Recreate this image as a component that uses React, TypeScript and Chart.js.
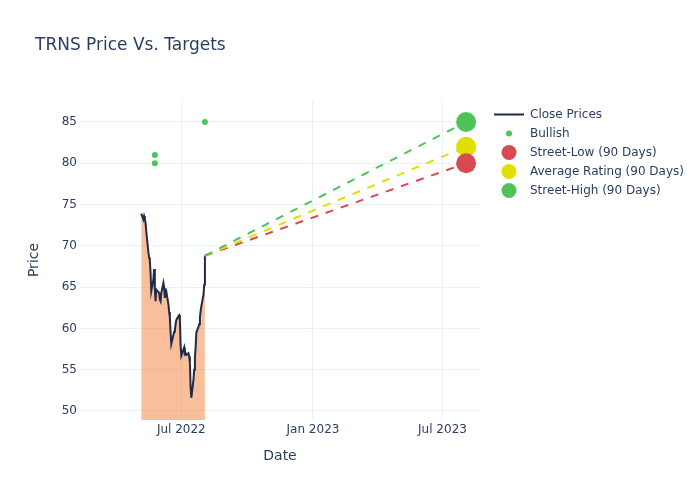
import React, { useEffect, useRef } from "react";
import { Chart, registerables } from "chart.js";

Chart.register(...registerables);

// ---------- data ----------
const closeDates = [
  "2022-05-06", "2022-05-09", "2022-05-10", "2022-05-11", "2022-05-12", "2022-05-13",
  "2022-05-16", "2022-05-17", "2022-05-18", "2022-05-19", "2022-05-20",
  "2022-05-23", "2022-05-24", "2022-05-25", "2022-05-26", "2022-05-27",
  "2022-05-31", "2022-06-01", "2022-06-02", "2022-06-03",
  "2022-06-06", "2022-06-07", "2022-06-08", "2022-06-09", "2022-06-10",
  "2022-06-13", "2022-06-14", "2022-06-15", "2022-06-16", "2022-06-17",
  "2022-06-21", "2022-06-22", "2022-06-23", "2022-06-24",
  "2022-06-27", "2022-06-28", "2022-06-29", "2022-06-30", "2022-07-01",
  "2022-07-05", "2022-07-06", "2022-07-07", "2022-07-08",
  "2022-07-11", "2022-07-12", "2022-07-13", "2022-07-14", "2022-07-15",
  "2022-07-18", "2022-07-19", "2022-07-20", "2022-07-21", "2022-07-22",
  "2022-07-25", "2022-07-26", "2022-07-27", "2022-07-28", "2022-07-29",
  "2022-08-01", "2022-08-02", "2022-08-03",
];
const closeValues = [
  73.9, 73.2, 73.6, 73.3, 72.8, 71.8,
  69.2, 68.6, 68.2, 66.8, 64.5,
  65.9, 67.2, 64.9, 63.3, 64.7,
  64.3, 63.5, 63.3, 64.3,
  65.5, 64.9, 63.7, 64.3, 64.5,
  62.9, 62.0, 61.3, 59.5, 58.1,
  59.6, 59.8, 60.5, 61.0,
  61.5, 61.6, 61.0, 58.0, 56.7,
  57.7, 56.9, 57.0, 56.8,
  57.0, 56.6, 55.8, 52.8, 51.6,
  53.8, 55.0, 56.5, 57.7, 59.5,
  60.2, 60.5, 61.3, 62.1, 62.7,
  64.1, 65.3, 68.8,
];
const bullishDates = ["2022-05-25", "2022-05-25", "2022-08-03"];
const bullishValues = [81, 80, 85];

const targetDate = "2023-08-03";
const targetLabels = ["Street-Low (90 Days)", "Average Rating (90 Days)", "Street-High (90 Days)"];
const targetValues = [80, 82, 85];
const targetColors = ["#d84a52", "#e0e000", "#4cc45a"];

const xTickDates = ["2022-07-01", "2023-01-01", "2023-07-01"];
const xTickLabels = ["Jul 2022", "Jan 2023", "Jul 2023"];
const yTicks = [50, 55, 60, 65, 70, 75, 80, 85];
const xRange = ["2022-02-09T10:00:00Z", "2023-08-22T10:00:00Z"];
const yRange = [48.91, 87.66];

const titleText = "TRNS Price Vs. Targets";
const xTitle = "Date";
const yTitle = "Price";

// ---------- styling ----------
const FONT = "'DejaVu Sans', sans-serif";
const TEXT = "#2a3f5f";
const GRID = "#ebf0f8";
const LINE = "#1f2b47";
const FILL = "rgba(244,128,55,0.5)";
const GREEN = "#4cc45a";

const ts = (d: string) => Date.parse(d.length === 10 ? d + "T00:00:00Z" : d);

const decorPlugin = {
  id: "decor",
  afterDraw(chart: any) {
    const ctx = chart.ctx as CanvasRenderingContext2D;
    const ca = chart.chartArea;
    ctx.save();
    ctx.fillStyle = TEXT;
    // title
    ctx.font = `17px ${FONT}`;
    ctx.textAlign = "left";
    ctx.textBaseline = "alphabetic";
    ctx.fillText(titleText, 35, 50);
    // axis titles
    ctx.font = `14px ${FONT}`;
    ctx.textAlign = "center";
    ctx.textBaseline = "middle";
    ctx.fillText(xTitle, (ca.left + ca.right) / 2, 456);
    ctx.save();
    ctx.translate(34, (ca.top + ca.bottom) / 2);
    ctx.rotate(-Math.PI / 2);
    ctx.fillText(yTitle, 0, 0);
    ctx.restore();

    // legend
    const rows = ["Close Prices", "Bullish", ...targetLabels];
    const y0 = 114.5;
    const dy = 19;
    ctx.font = `12px ${FONT}`;
    ctx.textAlign = "left";
    ctx.textBaseline = "middle";
    rows.forEach((label, i) => {
      const y = y0 + i * dy;
      if (i === 0) {
        ctx.strokeStyle = LINE;
        ctx.lineWidth = 2;
        ctx.beginPath();
        ctx.moveTo(494, y);
        ctx.lineTo(524, y);
        ctx.stroke();
      } else if (i === 1) {
        ctx.fillStyle = GREEN;
        ctx.beginPath();
        ctx.arc(509, y, 3, 0, Math.PI * 2);
        ctx.fill();
      } else {
        ctx.fillStyle = targetColors[i - 2];
        ctx.beginPath();
        ctx.arc(509, y, 7.5, 0, Math.PI * 2);
        ctx.fill();
      }
      ctx.fillStyle = TEXT;
      ctx.fillText(label, 530, y + 0.5);
    });
    ctx.restore();
  },
};

export default function App() {
  const ref = useRef<HTMLCanvasElement | null>(null);

  useEffect(() => {
    if (!ref.current) return;
    const lastX = ts(closeDates[closeDates.length - 1]);
    const lastY = closeValues[closeValues.length - 1];
    const tX = ts(targetDate);

    const datasets: any[] = [];
    datasets.push({
      label: "Close Prices",
      type: "line",
      data: closeDates.map((d, i) => ({ x: ts(d), y: closeValues[i] })),
      borderColor: LINE,
      borderWidth: 2,
      backgroundColor: FILL,
      fill: "start",
      pointRadius: 0,
      tension: 0,
      order: 10,
    });
    targetValues.forEach((v, i) => {
      datasets.push({
        label: targetLabels[i] + " line",
        type: "line",
        data: [
          { x: lastX, y: lastY },
          { x: tX, y: v },
        ],
        borderColor: targetColors[i],
        borderWidth: 2,
        borderDash: [8, 8],
        pointRadius: 0,
        fill: false,
        order: 8 - i,
      });
    });
    datasets.push({
      label: "Bullish",
      type: "line",
      showLine: false,
      data: bullishDates.map((d, i) => ({ x: ts(d), y: bullishValues[i] })),
      pointRadius: 3,
      pointBorderWidth: 0,
      pointBackgroundColor: GREEN,
      borderColor: GREEN,
      order: 5,
    });
    targetValues.forEach((v, i) => {
      datasets.push({
        label: targetLabels[i],
        type: "line",
        showLine: false,
        data: [{ x: tX, y: v }],
        pointRadius: 10,
        pointBorderWidth: 0,
        pointBackgroundColor: targetColors[i],
        borderColor: targetColors[i],
        order: 1 + i,
      });
    });

    const chart = new Chart(ref.current, {
      type: "line",
      data: { datasets },
      plugins: [decorPlugin],
      options: {
        animation: false,
        responsive: false,
        layout: { padding: { top: 100, right: 220, left: 0, bottom: 0 } },
        plugins: {
          legend: { display: false },
          title: { display: false },
          tooltip: { enabled: false },
        },
        scales: {
          x: {
            type: "linear",
            min: ts(xRange[0]),
            max: ts(xRange[1]),
            afterFit: (s: any) => {
              s.height = 80;
            },
            afterBuildTicks: (s: any) => {
              s.ticks = xTickDates.map((d) => ({ value: ts(d) }));
            },
            grid: { color: GRID, drawTicks: false, lineWidth: 1 },
            border: { display: false },
            ticks: {
              padding: 3,
              color: TEXT,
              font: { family: FONT, size: 12 },
              maxRotation: 0,
              callback: (_v: any, i: number) => xTickLabels[i],
            },
          },
          y: {
            type: "linear",
            min: yRange[0],
            max: yRange[1],
            afterFit: (s: any) => {
              s.width = 80;
            },
            afterBuildTicks: (s: any) => {
              s.ticks = yTicks.map((v) => ({ value: v }));
            },
            grid: { color: GRID, drawTicks: false, lineWidth: 1 },
            border: { display: false },
            ticks: {
              padding: 3,
              color: TEXT,
              font: { family: FONT, size: 12 },
              callback: (v: any) => String(v),
            },
          },
        },
      } as any,
    });
    return () => chart.destroy();
  }, []);

  return (
    <div style={{ position: "absolute", left: 0, top: 0, width: 700, height: 500, background: "#fff" }}>
      <canvas ref={ref} width={700} height={500} style={{ width: 700, height: 500, display: "block" }} />
    </div>
  );
}
